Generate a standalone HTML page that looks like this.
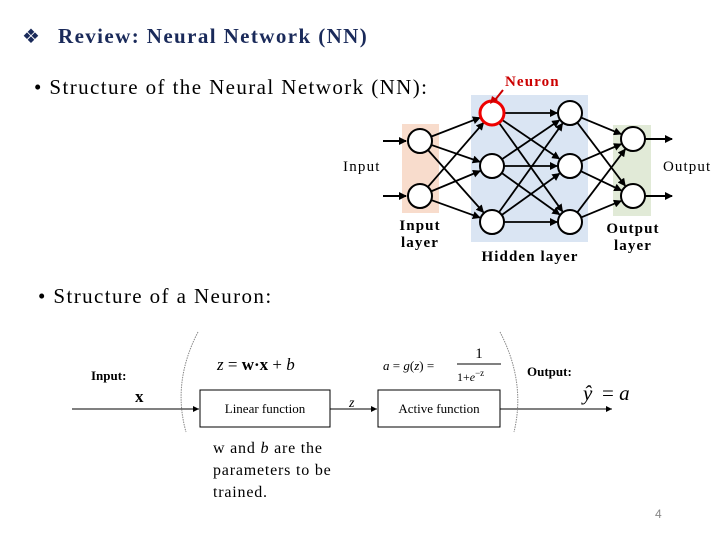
<!DOCTYPE html>
<html><head><meta charset="utf-8"><style>
body{margin:0;width:720px;height:540px;background:#fff;position:relative;overflow:hidden;font-family:"Liberation Serif",serif;color:#000}
.t{position:absolute;white-space:nowrap}
</style></head><body>
<div class="t" style="left:22px;top:24px;font-size:20px;color:#1a2a5a">❖</div>
<div class="t" style="left:58px;top:24px;font-size:21px;font-weight:bold;color:#1a2a5a;letter-spacing:1.4px">Review: Neural Network (NN)</div>
<div class="t" style="left:34px;top:75px;font-size:21px;letter-spacing:1.4px">• Structure of the Neural Network (NN):</div>
<div class="t" style="left:38px;top:284px;font-size:21px;letter-spacing:1.4px">• Structure of a Neuron:</div>
<svg width="720" height="540" style="position:absolute;left:0;top:0">
<defs><marker id="a" markerWidth="8" markerHeight="8" refX="7" refY="4" orient="auto" markerUnits="userSpaceOnUse"><path d="M0,0 L8,4 L0,8z" fill="#000"/></marker>
<marker id="s" markerWidth="6" markerHeight="6" refX="6" refY="3" orient="auto" markerUnits="userSpaceOnUse"><path d="M0,0 L6,3 L0,6z" fill="#000"/></marker></defs>
<rect x="402" y="124" width="37" height="89" fill="#f8dccc"/>
<rect x="471" y="95" width="117" height="147" fill="#dae5f3"/>
<rect x="613" y="125" width="38" height="91" fill="#e1ead7"/>
<g stroke="#000" stroke-width="2" marker-end="url(#a)">
<line x1="383" y1="141" x2="406" y2="141"/><line x1="383" y1="196" x2="406" y2="196"/>
<line x1="645" y1="139" x2="672" y2="139"/><line x1="645" y1="196" x2="672" y2="196"/>
</g>
<g stroke="#000" stroke-width="1.8" marker-end="url(#a)" id="edges"></g>
<g fill="#fff" stroke="#000" stroke-width="2" id="nodes"></g>
<text x="505" y="86" font-size="15" font-weight="bold" fill="#c00" font-family="Liberation Serif" letter-spacing="1.1">Neuron</text>
<line x1="503" y1="90" x2="495" y2="100" stroke="#c00" stroke-width="2"/>
<path d="M490,104 L492,96 L498,100z" fill="#c00"/>
<text x="343" y="171" font-size="15" font-family="Liberation Serif" letter-spacing="1.2">Input</text>
<text x="663" y="171" font-size="15" font-family="Liberation Serif" letter-spacing="1.1">Output</text>
<g font-size="15" font-weight="bold" font-family="Liberation Serif" text-anchor="middle" letter-spacing="1.1">
<text x="420" y="230">Input</text><text x="420" y="247">layer</text>
<text x="530" y="261">Hidden layer</text>
<text x="633" y="233">Output</text><text x="633" y="250">layer</text>
</g>
<g stroke="#000" stroke-width="1" fill="none">
<line x1="72" y1="409" x2="199" y2="409" marker-end="url(#s)"/>
<line x1="330" y1="409" x2="377" y2="409" marker-end="url(#s)"/>
<line x1="500" y1="409" x2="612" y2="409" marker-end="url(#s)"/>
<rect x="200" y="390" width="130" height="37"/>
<rect x="378" y="390" width="122" height="37"/>
<path d="M198,332 Q172,382 186,432" stroke="#888" stroke-dasharray="1.5,1"/>
<path d="M500,332 Q526,382 514,432" stroke="#888" stroke-dasharray="1.5,1"/>
</g>
<g font-family="Liberation Serif">
<text x="91" y="380" font-size="13" font-weight="bold">Input:</text>
<text x="135" y="402" font-size="17" font-weight="bold">x</text>
<text x="265" y="413" font-size="13" text-anchor="middle">Linear function</text>
<text x="439" y="413" font-size="13" text-anchor="middle">Active function</text>
<text x="349" y="407" font-size="14" font-style="italic">z</text>
<text x="217" y="370" font-size="17"><tspan font-style="italic">z</tspan> = <tspan font-weight="bold">w·x</tspan> + <tspan font-style="italic">b</tspan></text>
<text x="383" y="370" font-size="13"><tspan font-style="italic">a</tspan> = <tspan font-style="italic">g</tspan>(<tspan font-style="italic">z</tspan>) =</text>
<text x="479" y="358" font-size="15" text-anchor="middle">1</text>
<line x1="457" y1="364" x2="501" y2="364" stroke="#000" stroke-width="1"/>
<text x="457" y="381" font-size="12">1+<tspan font-style="italic">e</tspan><tspan font-size="9" dy="-5">−z</tspan></text>
<text x="527" y="376" font-size="13" font-weight="bold">Output:</text>
<text x="583" y="400" font-size="21" font-style="italic">ŷ</text><text x="602" y="400" font-size="21">= <tspan font-style="italic">a</tspan></text>
</g>
</svg>
<div class="t" style="left:213px;top:438px;font-size:16px;line-height:22px;letter-spacing:0.8px;font-family:'Liberation Serif',serif">w and <i>b</i> are the<br>parameters to be<br>trained.</div>
<div class="t" style="left:655px;top:507px;font-size:12px;color:#888;font-family:'Liberation Sans',sans-serif">4</div>
<script>
var L=[[[420,141],[420,196]],[[492,113],[492,166],[492,222]],[[570,113],[570,166],[570,222]],[[633,139],[633,196]]];
var r=12,e=document.getElementById('edges'),n=document.getElementById('nodes'),ns='http://www.w3.org/2000/svg';
for(var i=0;i<3;i++)L[i].forEach(function(a){L[i+1].forEach(function(b){var dx=b[0]-a[0],dy=b[1]-a[1],d=Math.hypot(dx,dy);var l=document.createElementNS(ns,'line');l.setAttribute('x1',a[0]+dx/d*r);l.setAttribute('y1',a[1]+dy/d*r);l.setAttribute('x2',b[0]-dx/d*(r+1));l.setAttribute('y2',b[1]-dy/d*(r+1));e.appendChild(l);});});
L.forEach(function(c,i){c.forEach(function(p,j){var k=document.createElementNS(ns,'circle');k.setAttribute('cx',p[0]);k.setAttribute('cy',p[1]);k.setAttribute('r',r);if(i==1&&j==0){k.setAttribute('stroke','#e00');k.setAttribute('stroke-width','3');}n.appendChild(k);});});
</script>
</body></html>
